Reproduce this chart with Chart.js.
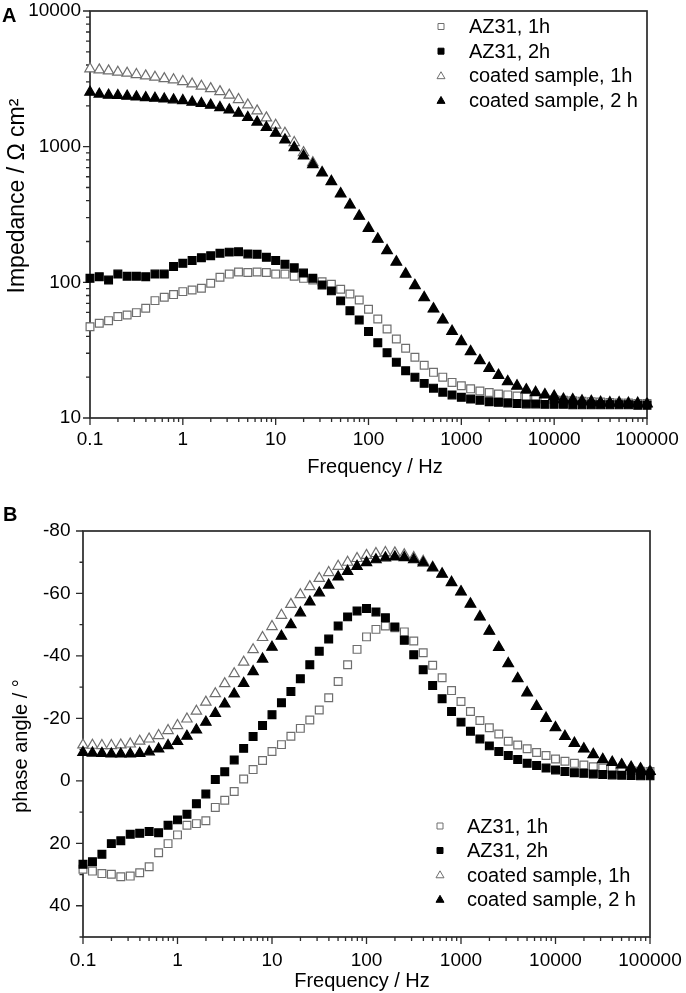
<!DOCTYPE html>
<html>
<head>
<meta charset="utf-8">
<style>
html,body{margin:0;padding:0;background:#fff;}
#wrap{position:relative;width:686px;height:993px;overflow:hidden;background:#fff;}
.box{position:absolute;left:0;width:686px;}
</style>
<script src="https://cdn.jsdelivr.net/npm/chart.js@4.4.1/dist/chart.umd.min.js"></script>
</head>
<body>
<div id="wrap">
  <div class="box" style="top:0;height:490px"><canvas id="ca" width="686" height="490"></canvas></div>
  <div class="box" style="top:490px;height:503px"><canvas id="cb" width="686" height="503"></canvas></div>
</div>
<script>
// ---------------- data ----------------
const FREQ = [
  0.1, 0.1259, 0.1585, 0.1995, 0.2512, 0.3162, 0.3981, 0.5012, 0.631, 0.7943,
  1, 1.259, 1.585, 1.995, 2.512, 3.162, 3.981, 5.012, 6.31, 7.943,
  10, 12.59, 15.85, 19.95, 25.12, 31.62, 39.81, 50.12, 63.1, 79.43,
  100, 125.9, 158.5, 199.5, 251.2, 316.2, 398.1, 501.2, 631, 794.3,
  1000, 1259, 1585, 1995, 2512, 3162, 3981, 5012, 6310, 7943,
  10000, 12589, 15849, 19953, 25119, 31623, 39811, 50119, 63096, 79433,
  100000
];
const SERIES_LABELS = ['AZ31, 1h', 'AZ31, 2h', 'coated sample, 1h', 'coated sample, 2 h'];

// Panel A: impedance modulus / Ohm cm2
const A_AZ31_1H = [
  47.1, 49.9, 52.2, 55.9, 57.5, 59.8, 64.4, 73.3, 77.7, 81.2,
  85.4, 87.9, 90.4, 98.4, 109, 115, 119, 118, 119, 118,
  115, 115, 111, 107, 104, 101, 96.8, 88.9, 82, 74.1,
  63.4, 53.7, 45.3, 38.2, 32.7, 28.0, 24.5, 21.7, 20.0, 18.3,
  17.3, 16.4, 15.8, 15.4, 15.0, 14.8, 14.5, 14.3, 14.0, 13.8,
  13.7, 13.5, 13.4, 13.3, 13.2, 13.1, 13.0, 12.9, 12.9, 12.8,
  12.8
];
const A_AZ31_2H = [
  107, 110, 104, 115, 111, 111, 110, 115, 115, 131,
  138, 145, 152, 157, 164, 167, 168, 162, 161, 153,
  145, 136, 128, 117, 107, 95.7, 86.5, 73.0, 61.8, 52.8,
  43.4, 35.9, 30.3, 25.8, 22.3, 20.0, 18.0, 16.6, 15.5, 14.8,
  14.2, 13.8, 13.5, 13.2, 13.05, 12.9, 12.8, 12.7, 12.7, 12.6,
  12.6, 12.6, 12.5, 12.5, 12.5, 12.5, 12.5, 12.5, 12.5, 12.4,
  12.4
];
const A_COAT_1H = [
  3750, 3680, 3620, 3540, 3480, 3400, 3325, 3250, 3175, 3110,
  3020, 2900, 2790, 2680, 2545, 2400, 2225, 2030, 1835, 1630,
  1440, 1256, 1072, 904, 763, 646, 555, 452, 374, 309,
  252, 209, 172, 142, 116, 95.2, 77.5, 64.0, 53.1, 43.7,
  36.8, 31.0, 26.6, 23.3, 20.7, 18.6, 17.3, 16.2, 15.5, 14.9,
  14.5, 13.8, 13.7, 13.4, 13.3, 13.1, 13.0, 13.0, 12.9, 12.9,
  12.8
];
const A_COAT_2H = [
  2523, 2440, 2397, 2384, 2356, 2328, 2300, 2275, 2248, 2213,
  2188, 2128, 2080, 2023, 1942, 1867, 1766, 1640, 1517, 1384,
  1257, 1122, 985, 855, 738, 641, 553, 449, 372, 307,
  250, 208, 171, 141, 115, 94.6, 77.0, 63.6, 52.8, 43.4,
  36.6, 30.8, 26.5, 23.2, 20.6, 18.5, 17.2, 16.1, 15.4, 14.8,
  14.4, 13.7, 13.6, 13.3, 13.2, 13.0, 12.9, 12.9, 12.8, 12.8,
  12.7
];

// Panel B: phase angle / degree
const B_AZ31_1H = [
  28.3, 28.9, 29.7, 29.9, 30.7, 30.5, 29.4, 27.5, 23.0, 20.1,
  17.3, 14.2, 13.7, 12.8, 8.5, 6.2, 3.4, -0.6, -3.6, -6.5,
  -9.4, -11.6, -14.3, -16.8, -19.5, -22.7, -26.6, -31.8, -37.2, -42.1,
  -46.1, -48.5, -49.6, -49.0, -47.7, -44.8, -41.0, -37.0, -33.0, -28.9,
  -25.4, -22.2, -19.3, -17.0, -15.0, -12.7, -11.5, -10.3, -9.1, -8.1,
  -7.0, -6.3, -5.6, -5.1, -4.5, -4.1, -3.8, -3.5, -3.3, -3.1,
  -3.0
];
const B_AZ31_2H = [
  26.7, 25.9, 23.5, 20.1, 19.2, 17.1, 16.8, 16.2, 16.6, 14.2,
  12.5, 10.7, 7.3, 4.2, -0.4, -2.9, -6.7, -10.4, -14.2, -17.7,
  -21.2, -25.0, -28.6, -32.7, -37.2, -41.5, -45.4, -49.6, -52.5, -54.4,
  -55.2, -54.1, -52.2, -49.3, -45.0, -40.4, -35.6, -30.5, -26.3, -22.2,
  -18.8, -15.9, -13.4, -11.2, -9.4, -8.1, -6.8, -5.6, -4.9, -4.1,
  -3.5, -3.0, -2.6, -2.4, -2.2, -2.0, -1.9, -1.8, -1.7, -1.6,
  -1.6
];
const B_COAT_1H = [
  -11.5, -11.4, -11.3, -11.3, -11.5, -11.8, -12.7, -13.4, -14.5, -16.1,
  -17.7, -19.8, -22.3, -25.2, -27.9, -31.1, -34.3, -38.0, -42.0, -45.9,
  -49.4, -53.0, -56.5, -59.6, -62.2, -64.8, -66.7, -68.7, -70.0, -71.2,
  -72.2, -72.8, -73.1, -73.0, -72.4, -71.5, -70.3, -68.4, -66.3, -63.6,
  -60.6, -56.7, -52.6, -48.0, -42.8, -37.6, -32.8, -28.3, -23.9, -20.1,
  -17.1, -14.3, -12.1, -10.3, -8.5, -6.9, -6.0, -5.2, -4.4, -3.9,
  -3.1
];
const B_COAT_2H = [
  -9.1, -8.9, -8.8, -8.6, -8.6, -8.6, -8.8, -9.3, -10.2, -11.3,
  -12.6, -14.3, -16.3, -18.8, -21.6, -24.6, -27.8, -31.2, -35.0, -39.0,
  -42.8, -46.3, -50.0, -53.8, -57.3, -60.2, -62.7, -65.3, -67.1, -68.7,
  -69.9, -70.8, -71.4, -71.7, -71.5, -70.8, -69.8, -68.2, -66.2, -63.5,
  -60.5, -56.6, -52.5, -47.9, -42.7, -37.5, -32.7, -28.2, -23.8, -20.0,
  -17.0, -14.2, -12.0, -10.2, -8.4, -6.8, -5.9, -5.1, -4.3, -3.8,
  -3.0
];

// ticks
const X_TICKS = [0.1, 1, 10, 100, 1000, 10000, 100000];
const X_TICK_LABELS = ['0.1', '1', '10', '100', '1000', '10000', '100000'];
const A_Y_TICKS = [10, 100, 1000, 10000];
const A_Y_TICK_LABELS = ['10', '100', '1000', '10000'];
const B_Y_TICKS = [-80, -60, -40, -20, 0, 20, 40];
const B_Y_TICK_LABELS = ['-80', '-60', '-40', '-20', '0', '20', '40'];
const B_Y_MINOR = [-70, -50, -30, -10, 10, 30, 50];

// ---------------- styling ----------------
const FONT = "'Liberation Sans', Arial, Helvetica, sans-serif";
Chart.defaults.font.family = FONT;
Chart.defaults.color = '#000';

const STYLES = [
  {shape: 'rect', fill: '#ffffff', stroke: '#6e6e6e', order: 4},
  {shape: 'rect', fill: '#000000', stroke: '#000000', order: 2},
  {shape: 'triangle', fill: '#ffffff', stroke: '#6e6e6e', order: 3},
  {shape: 'triangle', fill: '#000000', stroke: '#000000', order: 1}
];

function logMinor(majors) {
  const out = [];
  for (let k = 0; k < majors.length - 1; k++) {
    for (let m = 2; m <= 9; m++) out.push(majors[k] * m);
  }
  return out;
}

function makeDatasets(seriesList) {
  return seriesList.map((vals, i) => ({
    label: SERIES_LABELS[i],
    data: FREQ.map((f, j) => ({x: f, y: vals[j]})),
    showLine: false,
    pointStyle: STYLES[i].shape,
    pointRadius: STYLES[i].shape === 'rect' ? 5.5 : 6,
    pointBackgroundColor: STYLES[i].fill,
    pointBorderColor: STYLES[i].stroke,
    pointBorderWidth: 1.2,
    order: STYLES[i].order,
    clip: false
  }));
}

function drawMarker(ctx, shape, fill, stroke, x, y, s) {
  ctx.save();
  ctx.fillStyle = fill; ctx.strokeStyle = stroke; ctx.lineWidth = 1;
  ctx.beginPath();
  if (shape === 'rect') {
    ctx.rect(x - s / 2, y - s / 2, s, s);
  } else {
    const h = s * 0.866;
    ctx.moveTo(x, y - h * 0.6);
    ctx.lineTo(x + s / 2, y + h * 0.4);
    ctx.lineTo(x - s / 2, y + h * 0.4);
    ctx.closePath();
  }
  ctx.fill(); ctx.stroke();
  ctx.restore();
}

const deco = {
  id: 'deco',
  beforeDatasetsDraw(chart, args, o) {
    const ctx = chart.ctx, a = chart.chartArea;
    const xs = chart.scales.x, ys = chart.scales.y;
    ctx.save();
    ctx.strokeStyle = '#2a2a2a';
    ctx.lineWidth = 1.7;
    ctx.strokeRect(a.left, a.top, a.right - a.left, a.bottom - a.top);
    ctx.lineWidth = 1.3;
    ctx.beginPath();
    o.xMajor.forEach(v => { const p = xs.getPixelForValue(v); ctx.moveTo(p, a.bottom); ctx.lineTo(p, a.bottom + 7); });
    o.xMinor.forEach(v => { const p = xs.getPixelForValue(v); ctx.moveTo(p, a.bottom); ctx.lineTo(p, a.bottom + 4); });
    o.yMajor.forEach(v => { const p = ys.getPixelForValue(v); ctx.moveTo(a.left, p); ctx.lineTo(a.left - 7, p); });
    o.yMinor.forEach(v => { const p = ys.getPixelForValue(v); ctx.moveTo(a.left, p); ctx.lineTo(a.left - (o.yMinorLen || 4), p); });
    ctx.stroke();
    ctx.restore();
  },
  afterDraw(chart, args, o) {
    const ctx = chart.ctx;
    ctx.save();
    ctx.fillStyle = '#000';
    // panel letter
    ctx.font = 'bold ' + o.letter.size + 'px ' + FONT;
    ctx.textAlign = 'left'; ctx.textBaseline = 'alphabetic';
    ctx.fillText(o.letter.text, o.letter.x, o.letter.y);
    // x title
    ctx.font = o.xTitle.size + 'px ' + FONT;
    ctx.textAlign = 'center';
    ctx.fillText(o.xTitle.text, o.xTitle.x, o.xTitle.y);
    // y title
    ctx.save();
    ctx.translate(o.yTitle.x, o.yTitle.y);
    ctx.rotate(-Math.PI / 2);
    ctx.font = o.yTitle.size + 'px ' + FONT;
    ctx.textAlign = 'center';
    ctx.fillText(o.yTitle.text, 0, 0);
    ctx.restore();
    // legend
    const L = o.legend;
    ctx.font = L.size + 'px ' + FONT;
    ctx.textAlign = 'left'; ctx.textBaseline = 'middle';
    chart.data.datasets.forEach((ds, i) => {
      const y = L.y + i * L.dy;
      const st = STYLES[i];
      drawMarker(ctx, st.shape, st.fill, st.stroke, L.mx, y, st.shape === 'rect' ? 6 : 8);
      ctx.fillStyle = '#000';
      ctx.fillText(ds.label, L.tx, y + 1);
    });
    ctx.restore();
  }
};

function tickCb(ticks, labels) {
  return function (v) {
    const k = ticks.findIndex(t => Math.abs(t - v) < 1e-9 * Math.max(1, Math.abs(t)));
    return k >= 0 ? labels[k] : '';
  };
}

const tickFont = {size: 19, family: FONT};
function fitX(h) { return s => { s.height = h; s.paddingLeft = 0; s.paddingRight = 0; }; }
function fitY(w) { return s => { s.width = w; s.paddingTop = 0; s.paddingBottom = 0; }; }

// ---------------- chart A ----------------
new Chart(document.getElementById('ca'), {
  type: 'scatter',
  data: {datasets: makeDatasets([A_AZ31_1H, A_AZ31_2H, A_COAT_1H, A_COAT_2H])},
  plugins: [deco],
  options: {
    responsive: false, animation: false, events: [],
    layout: {padding: {left: 0, top: 11, right: 39, bottom: 0}},
    plugins: {
      legend: {display: false}, tooltip: {enabled: false},
      deco: {
        xMajor: X_TICKS, xMinor: logMinor(X_TICKS),
        yMajor: A_Y_TICKS, yMinor: logMinor(A_Y_TICKS),
        letter: {text: 'A', x: 2, y: 22, size: 20},
        xTitle: {text: 'Frequency / Hz', x: 375, y: 473, size: 20},
        yTitle: {text: 'Impedance / Ω cm²', x: 23.5, y: 196, size: 23},
        legend: {mx: 441, tx: 469, y: 26.5, dy: 24.7, size: 20}
      }
    },
    scales: {
      x: {
        type: 'logarithmic', position: 'bottom', min: 0.1, max: 100000,
        grid: {display: false, drawTicks: false, tickLength: 0},
        border: {display: false},
        afterBuildTicks: s => { s.ticks = X_TICKS.map(v => ({value: v})); },
        afterFit: fitX(72),
        ticks: {font: tickFont, color: '#000', padding: 10.5, maxRotation: 0, autoSkip: false,
                callback: tickCb(X_TICKS, X_TICK_LABELS)}
      },
      y: {
        type: 'logarithmic', position: 'left', min: 10, max: 10000,
        grid: {display: false, drawTicks: false, tickLength: 0},
        border: {display: false},
        afterBuildTicks: s => { s.ticks = A_Y_TICKS.map(v => ({value: v})); },
        afterFit: fitY(90),
        ticks: {font: tickFont, color: '#000', padding: 9, autoSkip: false,
                callback: tickCb(A_Y_TICKS, A_Y_TICK_LABELS)}
      }
    }
  }
});

// ---------------- chart B ----------------
new Chart(document.getElementById('cb'), {
  type: 'scatter',
  data: {datasets: makeDatasets([B_AZ31_1H, B_AZ31_2H, B_COAT_1H, B_COAT_2H])},
  plugins: [deco],
  options: {
    responsive: false, animation: false, events: [],
    layout: {padding: {left: 0, top: 41, right: 36, bottom: 0}},
    plugins: {
      legend: {display: false}, tooltip: {enabled: false},
      deco: {
        xMajor: X_TICKS, xMinor: logMinor(X_TICKS),
        yMajor: B_Y_TICKS, yMinor: B_Y_MINOR, yMinorLen: 3.5,
        letter: {text: 'B', x: 3, y: 31, size: 20},
        xTitle: {text: 'Frequency / Hz', x: 362, y: 497, size: 20},
        yTitle: {text: 'phase angle / °', x: 27, y: 256, size: 20},
        legend: {mx: 440, tx: 467, y: 336, dy: 24.5, size: 20}
      }
    },
    scales: {
      x: {
        type: 'logarithmic', position: 'bottom', min: 0.1, max: 100000,
        grid: {display: false, drawTicks: false, tickLength: 0},
        border: {display: false},
        afterBuildTicks: s => { s.ticks = X_TICKS.map(v => ({value: v})); },
        afterFit: fitX(56),
        ticks: {font: tickFont, color: '#000', padding: 12, maxRotation: 0, autoSkip: false,
                callback: tickCb(X_TICKS, X_TICK_LABELS)}
      },
      y: {
        type: 'linear', position: 'left', min: -80, max: 50, reverse: true,
        grid: {display: false, drawTicks: false, tickLength: 0},
        border: {display: false},
        afterBuildTicks: s => { s.ticks = B_Y_TICKS.map(v => ({value: v})); },
        afterFit: fitY(83),
        ticks: {font: tickFont, color: '#000', padding: 12.5, autoSkip: false,
                callback: tickCb(B_Y_TICKS, B_Y_TICK_LABELS)}
      }
    }
  }
});
</script>
</body>
</html>
